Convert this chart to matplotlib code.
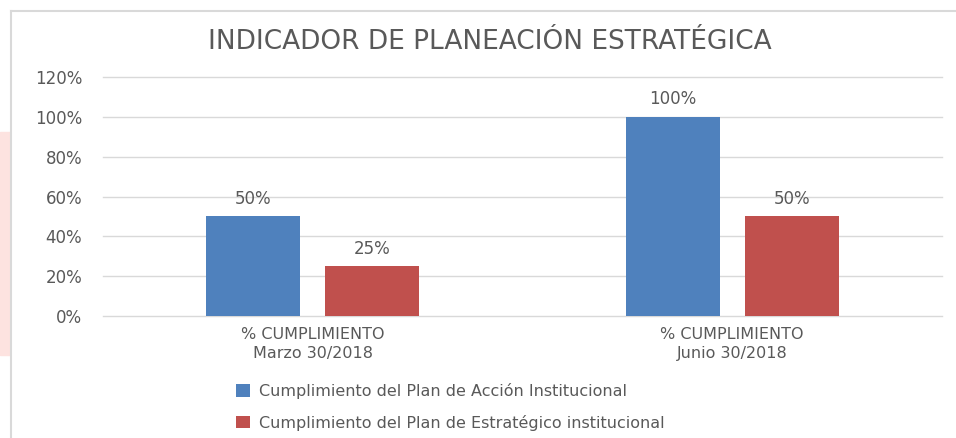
import matplotlib
matplotlib.use('Agg')
import matplotlib.pyplot as plt
import numpy as np
from matplotlib.patches import Rectangle
from matplotlib.lines import Line2D

# datos del gráfico
categorias = ['% CUMPLIMIENTO\nMarzo 30/2018', '% CUMPLIMIENTO\nJunio 30/2018']
plan_accion = [50, 100]
plan_estrategico = [25, 50]
series = ['Cumplimiento del Plan de Acción Institucional',
          'Cumplimiento del Plan de Estratégico institucional']
y_ticks = [0, 20, 40, 60, 80, 100, 120]

azul = '#4f81bd'
rojo = '#c0504d'
gris = '#595959'

plt.rcParams['font.family'] = ['DejaVu Sans']

fig = plt.figure(figsize=(9.56, 4.38), dpi=100)

# franja rosada y borde del área del gráfico
fig.patches.append(Rectangle((0, 1 - 355 / 438), 10 / 956, 223 / 438,
                             transform=fig.transFigure, color='#fde3e0', zorder=0))
fig.lines.append(Line2D([11 / 956, 11 / 956], [0, 1 - 11 / 438],
                        transform=fig.transFigure, color='#d9d9d9', lw=1.5))
fig.lines.append(Line2D([11 / 956, 1], [1 - 11 / 438, 1 - 11 / 438],
                        transform=fig.transFigure, color='#d9d9d9', lw=1.5))

ax = fig.add_axes([103 / 956, 1 - 316 / 438, 839 / 956, 239 / 438])

x = np.arange(len(categorias))
ancho = 0.224
sep = 0.142
b1 = ax.bar(x - sep, plan_accion, ancho, color=azul, label=series[0], zorder=3)
b2 = ax.bar(x + sep, plan_estrategico, ancho, color=rojo, label=series[1], zorder=3)

for barras in (b1, b2):
    for b in barras:
        ax.annotate(f'{b.get_height():.0f}%',
                    (b.get_x() + b.get_width() / 2, b.get_height()),
                    xytext=(0, 6), textcoords='offset points',
                    ha='center', va='bottom', fontsize=12, color=gris)

ax.set_xlim(-0.5, 1.5)
ax.set_ylim(0, 120)
ax.set_yticks(y_ticks)
ax.set_yticklabels([f'{v}%' for v in y_ticks])
ax.set_xticks(x)
ax.set_xticklabels(categorias, linespacing=1.3)
ax.tick_params(axis='both', length=0, labelsize=11.5, labelcolor=gris)
ax.tick_params(axis='y', labelsize=12, pad=15)
ax.tick_params(axis='x', pad=8)
ax.grid(axis='y', color='#d9d9d9', lw=1, zorder=0)
for gl in ax.get_ygridlines():
    gl.set_clip_on(False)
for s in ax.spines.values():
    s.set_visible(False)

fig.text(490 / 956, 1 - 42 / 438, 'INDICADOR DE PLANEACIÓN ESTRATÉGICA',
         ha='center', va='center', fontsize=19, color=gris)

fig.legend(handles=[b1, b2], loc='upper left',
           bbox_to_anchor=(222 / 956, 1 - 369 / 438), frameon=False,
           fontsize=11.5, labelcolor=gris, handlelength=0.85, handleheight=0.85,
           handletextpad=0.55, labelspacing=0.95)

fig.savefig('out.png', dpi=100)
